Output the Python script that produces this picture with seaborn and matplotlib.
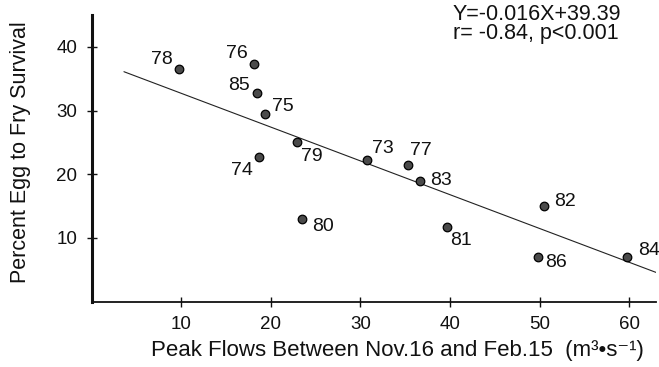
import matplotlib
matplotlib.use("Agg")
import matplotlib.pyplot as plt
import seaborn as sns
import pandas as pd

# ---- data ----
years = ["78", "76", "85", "75", "79", "74", "73", "77", "83", "80", "81", "82", "86", "84"]
peak_flow = [9.8, 18.1, 18.4, 19.4, 22.9, 18.7, 30.7, 35.3, 36.6, 23.5, 39.7, 50.5, 49.8, 59.8]
survival = [36.5, 37.3, 32.8, 29.4, 25.1, 22.7, 22.3, 21.4, 19.0, 13.0, 11.7, 15.0, 7.05, 7.05]
fit_line_x = [3.6, 63.0]
fit_line_y = [36.1, 4.6]
x_ticks = [10, 20, 30, 40, 50, 60]
y_ticks = [10, 20, 30, 40]
equation_lines = ["Y=-0.016X+39.39", "r= -0.84, p<0.001"]

# label offsets in pixels (style only)
label_offsets = [(-18, 10), (-17, 11), (-18, 7), (17, 8), (15, -15), (-17, -13),
                 (16, 11), (13, 15), (21, 0), (21, -8), (14, -13), (21, 5), (18, -6), (22, 6)]

df = pd.DataFrame({"year": years, "flow": peak_flow, "surv": survival})
line_df = pd.DataFrame({"x": fit_line_x, "y": fit_line_y})

sns.set_style("ticks")
plt.rcParams["font.family"] = ["Liberation Sans", "DejaVu Sans"]

W, H = 659, 367
fig = plt.figure(figsize=(W / 100, H / 100), dpi=100)
left, right, bottom, top = 91.7, 656.0, 301.7, 15.0
ax = fig.add_axes([left / W, (H - bottom) / H, (right - left) / W, (bottom - top) / H])

sns.lineplot(data=line_df, x="x", y="y", ax=ax, color="#222222", linewidth=0.8)
sns.scatterplot(data=df, x="flow", y="surv", ax=ax, s=38, color="#4a4a4a",
                edgecolor="black", linewidth=0.9, zorder=3)

for (yr, xv, yv), (dx, dy) in zip(zip(years, peak_flow, survival), label_offsets):
    ax.annotate(yr, (xv, yv), xytext=(dx, dy), textcoords="offset pixels",
                ha="center", va="center", fontsize=14, color="#111111")

ax.set_xlim(0, 63)
ax.set_ylim(0, 45)
ax.set_xticks(x_ticks)
ax.set_yticks(y_ticks)
ax.tick_params(direction="inout", length=7, width=1, labelsize=13.5, colors="#111111", pad=7)
for s in ["top", "right"]:
    ax.spines[s].set_visible(False)
ax.spines["left"].set_linewidth(2.2)
ax.spines["bottom"].set_linewidth(1.3)
ax.spines["left"].set_color("#111111")
ax.spines["bottom"].set_color("#111111")

ax.set_xlabel("Peak Flows Between Nov.16 and Feb.15  (m³•s⁻¹)", fontsize=16, color="#111111")
ax.set_ylabel("Percent Egg to Fry Survival", fontsize=15.5, color="#111111")
ax.xaxis.set_label_coords(0.541, -0.135)
ax.yaxis.set_label_coords(-0.107, 0.52)

fig.text(453 / W, 1 - 14 / H, equation_lines[0], fontsize=15.5, ha="left", va="center", color="#111111")
fig.text(453 / W, 1 - 33 / H, equation_lines[1], fontsize=15.5, ha="left", va="center", color="#111111")

fig.savefig("out.png", dpi=100)
